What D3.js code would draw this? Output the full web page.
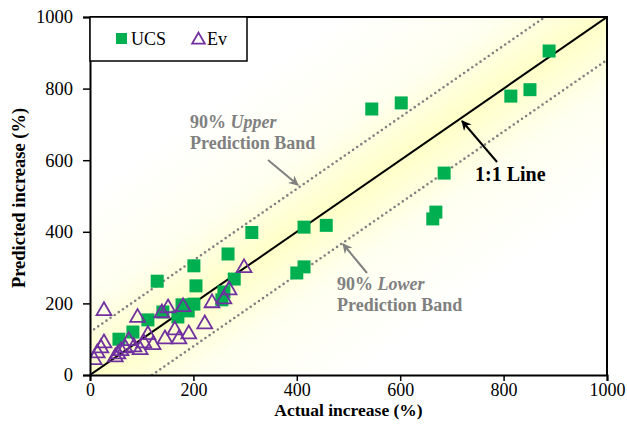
<!DOCTYPE html>
<html>
<head>
<meta charset="utf-8">
<script src="https://cdn.jsdelivr.net/npm/d3@7"></script>
<style>
  body { margin: 0; background: #fff; }
  svg text { font-family: "Liberation Serif", "Times New Roman", serif; }
</style>
</head>
<body>
<svg width="627" height="441"></svg>
<script>
// data: [actual, predicted] in %
var ucs = [[888,905],[851,797],[814,779],[545,743],[602,760],[685,564],[669,455],[663,436],
  [414,413],[457,418],[414,302],[400,285],[313,398],[267,338],[279,268],[201,305],[205,249],
  [201,198],[190,179],[178,196],[259,232],[255,210],[130,262],[141,176],[170,162],[112,154],
  [83,120],[56,100]]
var ev = [[8,45],[14,64],[21,78],[27,92],[27,182],[49,53],[54,61],[60,70],[68,78],[75,98],
  [85,81],[97,73],[104,92],[112,115],[122,87],[92,163],[139,176],[145,103],[151,190],[164,128],
  [172,103],[180,193],[191,117],[222,145],[236,204],[259,215],[269,240],[298,302]]
var ticks = [0, 200, 400, 600, 800, 1000]
var bandWidth = 120  // 90% prediction band offset

var svg = d3.select("svg"),
    margin = {top: 17, right: 20, bottom: 66, left: 90},
    width = +svg.attr("width") - margin.left - margin.right,
    height = +svg.attr("height") - margin.top - margin.bottom

var x = d3.scaleLinear().domain([0, 1000]).range([0, width])
var y = d3.scaleLinear().domain([0, 1000]).range([height, 0])

var defs = svg.append("defs")

// yellow glow along the 1:1 line, perpendicular gradient
var cx = margin.left + width / 2, cy = margin.top + height / 2
var len = Math.sqrt(width * width + height * height)
var px = height / len, py = width / len, k = 150
var grad = defs.append("linearGradient").attr("id", "glow")
    .attr("gradientUnits", "userSpaceOnUse")
    .attr("x1", cx - px * k).attr("y1", cy - py * k)
    .attr("x2", cx + px * k).attr("y2", cy + py * k)
grad.selectAll("stop")
  .data([[0, "#ffffff"], [0.3, "#fffff0"], [0.5, "#ffffc8"], [0.7, "#fffff0"], [1, "#ffffff"]])
  .enter().append("stop")
    .attr("offset", function(d) { return d[0] })
    .attr("stop-color", function(d) { return d[1] })

defs.append("clipPath").attr("id", "clip")
  .append("rect").attr("width", width).attr("height", height)

function marker(id, color) {
  defs.append("marker").attr("id", id)
      .attr("viewBox", "0 0 10 10").attr("refX", 9).attr("refY", 5)
      .attr("markerWidth", 5).attr("markerHeight", 5).attr("orient", "auto")
    .append("path").attr("d", "M0,0 L10,5 L0,10 L3,5 Z").attr("fill", color)
}
marker("arrowGray", "#808080")
marker("arrowBlack", "#000")

svg.append("rect")
    .attr("x", margin.left).attr("y", margin.top)
    .attr("width", width).attr("height", height)
    .attr("fill", "url(#glow)")

var g = svg.append("g").attr("transform", "translate(" + margin.left + "," + margin.top + ")")
var plot = g.append("g").attr("clip-path", "url(#clip)")

// prediction bands (dotted) and 1:1 line
plot.append("line")
    .attr("x1", x(0)).attr("y1", y(bandWidth)).attr("x2", x(1000 - bandWidth)).attr("y2", y(1000))
    .attr("stroke", "#808080").attr("stroke-width", 2.6)
    .attr("stroke-dasharray", "0 5").attr("stroke-linecap", "round")
plot.append("line")
    .attr("x1", x(bandWidth)).attr("y1", y(0)).attr("x2", x(1000)).attr("y2", y(1000 - bandWidth))
    .attr("stroke", "#808080").attr("stroke-width", 2.6)
    .attr("stroke-dasharray", "0 5").attr("stroke-linecap", "round")
plot.append("line")
    .attr("x1", x(0)).attr("y1", y(0)).attr("x2", x(1000)).attr("y2", y(1000))
    .attr("stroke", "#000").attr("stroke-width", 2)

// points
var s = 13
plot.selectAll(".ucs").data(ucs).enter().append("rect")
    .attr("class", "ucs")
    .attr("x", function(d) { return x(d[0]) - s / 2 })
    .attr("y", function(d) { return y(d[1]) - s / 2 })
    .attr("width", s).attr("height", s)
    .attr("fill", "#00b050")

var tri = d3.symbol().type(d3.symbolTriangle).size(95)
plot.selectAll(".ev").data(ev).enter().append("path")
    .attr("class", "ev")
    .attr("transform", function(d) { return "translate(" + x(d[0]) + "," + (y(d[1]) + 1) + ")" })
    .attr("d", tri)
    .attr("fill", "none").attr("stroke", "#7030a0").attr("stroke-width", 1.8)

// axes
var xAxis = g.append("g").attr("transform", "translate(0," + height + ")")
    .call(d3.axisBottom(x).tickValues(ticks).tickSize(6).tickPadding(2).tickFormat(d3.format("d")))
var yAxis = g.append("g")
    .call(d3.axisLeft(y).tickValues(ticks).tickSize(7).tickPadding(10).tickFormat(d3.format("d")))
g.selectAll(".domain").attr("stroke-width", 2)
g.selectAll(".tick line").attr("stroke-width", 1.5)
xAxis.attr("font-family", null).attr("font-size", 18)
yAxis.attr("font-family", null).attr("font-size", 18.5)
g.selectAll(".tick text").attr("fill", "#000")

// frame top/right
g.append("path")
    .attr("d", "M0,0 H" + width + " V" + height)
    .attr("fill", "none").attr("stroke", "#000").attr("stroke-width", 2)

// axis titles
svg.append("text")
    .attr("x", margin.left + width / 2).attr("y", 416)
    .attr("text-anchor", "middle").attr("font-size", 17.5).attr("font-weight", "bold")
    .text("Actual increase (%)")
svg.append("text")
    .attr("transform", "translate(25," + (margin.top + height / 2 + 2) + ") rotate(-90)")
    .attr("text-anchor", "middle").attr("font-size", 18.5).attr("font-weight", "bold")
    .text("Predicted increase (%)")

// legend
var leg = g.append("g")
leg.append("rect").attr("x", 0).attr("y", 0).attr("width", 157).attr("height", 44)
    .attr("fill", "#fff").attr("stroke", "#000").attr("stroke-width", 1.5)
leg.append("rect").attr("x", 26).attr("y", 16).attr("width", 11).attr("height", 11).attr("fill", "#00b050")
leg.append("text").attr("x", 41).attr("y", 28).attr("font-size", 18).text("UCS")
leg.append("path").attr("transform", "translate(108.5,23)")
    .attr("d", d3.symbol().type(d3.symbolTriangle).size(70))
    .attr("fill", "none").attr("stroke", "#7030a0").attr("stroke-width", 1.8)
leg.append("text").attr("x", 117).attr("y", 28).attr("font-size", 18).text("Ev")

// annotations
function note(tx, ty, line1a, line1b, line2, color) {
  var t = g.append("text").attr("x", tx).attr("y", ty)
      .attr("font-size", 18).attr("font-weight", "bold").attr("fill", color)
  t.append("tspan").text(line1a)
  t.append("tspan").attr("font-style", "italic").text(line1b)
  g.append("text").attr("x", tx).attr("y", ty + 21)
      .attr("font-size", 18).attr("font-weight", "bold").attr("fill", color)
      .text(line2)
}
note(100, 111, "90% ", "Upper", "Prediction Band", "#808080")
note(247, 273, "90% ", "Lower", "Prediction Band", "#808080")

g.append("line").attr("x1", 178).attr("y1", 143).attr("x2", 208).attr("y2", 168)
    .attr("stroke", "#808080").attr("stroke-width", 2).attr("marker-end", "url(#arrowGray)")
g.append("line").attr("x1", 277).attr("y1", 256).attr("x2", 253).attr("y2", 227)
    .attr("stroke", "#808080").attr("stroke-width", 2).attr("marker-end", "url(#arrowGray)")
g.append("line").attr("x1", 407).attr("y1", 145).attr("x2", 372).attr("y2", 104)
    .attr("stroke", "#000").attr("stroke-width", 2).attr("marker-end", "url(#arrowBlack)")
g.append("text").attr("x", 385).attr("y", 164)
    .attr("font-size", 20).attr("font-weight", "bold").text("1:1 Line")
</script>
</body>
</html>
